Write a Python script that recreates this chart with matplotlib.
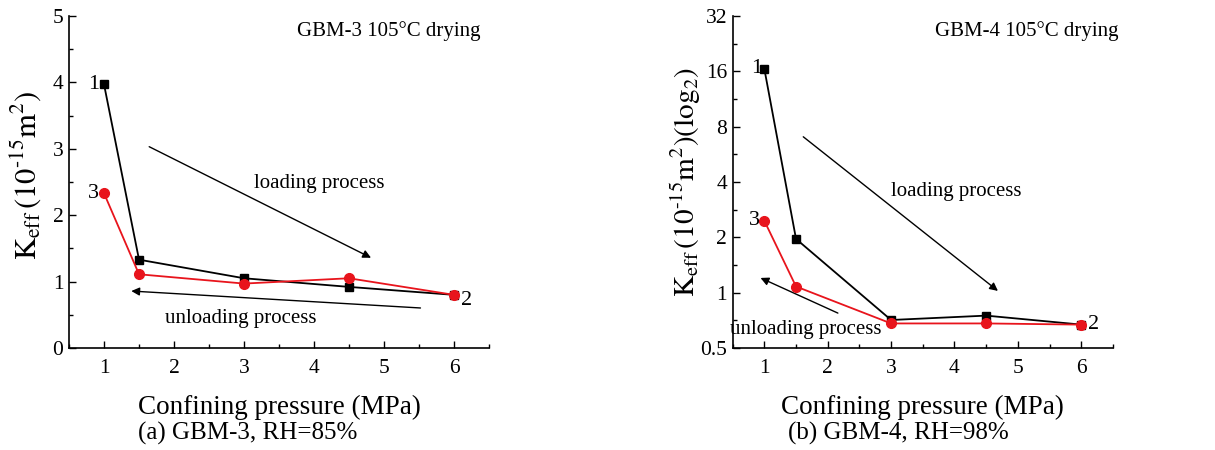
import numpy as np
import matplotlib
matplotlib.use("Agg")
import matplotlib.pyplot as plt
from matplotlib.ticker import FixedLocator, MultipleLocator, NullFormatter

plt.rcParams['font.family'] = ['Liberation Serif', 'DejaVu Serif']
plt.rcParams['mathtext.fontset'] = 'stix'

# confining pressure steps (MPa)
pressure = [1, 1.5, 3, 4.5, 6]

# GBM-3, RH=85%
gbm3_loading = [3.97, 1.33, 1.05, 0.92, 0.80]
gbm3_unloading = [2.33, 1.11, 0.97, 1.05, 0.80]

# GBM-4, RH=98%
gbm4_loading = [16.5, 1.96, 0.71, 0.75, 0.67]
gbm4_unloading = [2.46, 1.08, 0.68, 0.68, 0.67]

log2_ticks = [0.5, 1, 2, 4, 8, 16, 32]
log2_labels = ['0.5', '1', '2', '4', '8', '16', '32']

fig = plt.figure(figsize=(12.15, 4.5), dpi=100)
ax1 = fig.add_axes([0.0568, 0.2267, 0.3457, 0.7378])
ax2 = fig.add_axes([0.603, 0.2267, 0.313, 0.7378])


def style_axes(ax):
    for s in ('top', 'right'):
        ax.spines[s].set_visible(False)
    ax.spines['left'].set_linewidth(1.2)
    ax.spines['bottom'].set_linewidth(1.2)
    ax.tick_params(which='both', direction='in', labelsize=15.5, width=1.0)
    ax.tick_params(which='major', length=5)
    ax.tick_params(which='minor', length=3)
    ax.tick_params(axis='x', which='major', pad=8)
    ax.tick_params(axis='y', which='major', pad=4)
    ax.set_xlim(0.5, 6.5)
    ax.set_xticks([1, 2, 3, 4, 5, 6])
    ax.xaxis.set_minor_locator(MultipleLocator(0.5))
    ax.set_xlabel('Confining pressure (MPa)', fontsize=19.5, labelpad=12)


arrow = dict(arrowstyle='-|>', color='black', lw=1.0, mutation_scale=12)

# ---- panel (a)
ax = ax1
ax.plot(pressure, gbm3_loading, color='black', marker='s', ms=6, lw=1.3, zorder=3)
ax.plot(pressure, gbm3_unloading, color='#e8141c', marker='o', ms=7, lw=1.3, zorder=4)
style_axes(ax)
ax.set_ylim(0, 5)
ax.yaxis.set_major_locator(MultipleLocator(1))
ax.yaxis.set_minor_locator(MultipleLocator(0.5))
ax.set_ylabel(r'$\mathrm{K_{eff}\,(10^{\text{-}15}m^{2})}$', fontsize=22)
ax.yaxis.set_label_coords(-0.062, 0.52)
ax.annotate('', xy=(4.85, 1.34), xytext=(1.61, 3.05), arrowprops=arrow)
ax.annotate('', xy=(1.35, 0.86), xytext=(5.56, 0.60), arrowprops=arrow)
ax.text(4.07, 2.48, 'loading process', fontsize=15, ha='center', va='center')
ax.text(2.96, 0.44, 'unloading process', fontsize=15, ha='center', va='center')
ax.text(0.98, 0.955, 'GBM-3 105°C drying', transform=ax.transAxes, fontsize=15,
        ha='right', va='center')
ax.text(0.93, gbm3_loading[0], '1', fontsize=16, ha='right', va='center')
ax.text(0.93, gbm3_unloading[0], '3', fontsize=16, ha='right', va='center')
ax.text(6.1, 0.72, '2', fontsize=16, ha='left', va='center')
fig.text(138 / 1215, 1 - 433 / 450, '(a) GBM-3, RH=85%', fontsize=18, ha='left', va='center')

# ---- panel (b)
ax = ax2
ax.plot(pressure, gbm4_loading, color='black', marker='s', ms=6, lw=1.3, zorder=3)
ax.plot(pressure, gbm4_unloading, color='#e8141c', marker='o', ms=7, lw=1.3, zorder=4)
style_axes(ax)
ax.set_yscale('log', base=2)
ax.set_ylim(0.5, 32)
ax.yaxis.set_major_locator(FixedLocator(log2_ticks))
ax.set_yticklabels(log2_labels)
ax.yaxis.set_minor_locator(FixedLocator([0.707, 1.414, 2.828, 5.657, 11.31, 22.63]))
ax.yaxis.set_minor_formatter(NullFormatter())
ax.set_ylabel(r'$\mathrm{K_{eff}\,(10^{\text{-}15}m^{2})(log_{2})}$', fontsize=21)
ax.yaxis.set_label_coords(-0.078, 0.5)
ax.annotate('', xy=(4.72, 1.0), xytext=(1.58, 7.2), arrowprops=arrow)
ax.annotate('', xy=(0.90, 1.22), xytext=(2.2, 0.763), arrowprops=arrow)
ax.text(4.03, 3.53, 'loading process', fontsize=15, ha='center', va='center')
ax.text(1.65, 0.63, 'unloading process', fontsize=15, ha='center', va='center')
ax.text(1.015, 0.955, 'GBM-4 105°C drying', transform=ax.transAxes, fontsize=15,
        ha='right', va='center')
ax.text(0.96, gbm4_loading[0], '1', fontsize=16, ha='right', va='center')
ax.text(0.93, gbm4_unloading[0], '3', fontsize=16, ha='right', va='center')
ax.text(6.1, gbm4_unloading[-1], '2', fontsize=16, ha='left', va='center')
fig.text(788 / 1215, 1 - 433 / 450, '(b) GBM-4, RH=98%', fontsize=18, ha='left', va='center')

fig.savefig('out.png', dpi=100)
